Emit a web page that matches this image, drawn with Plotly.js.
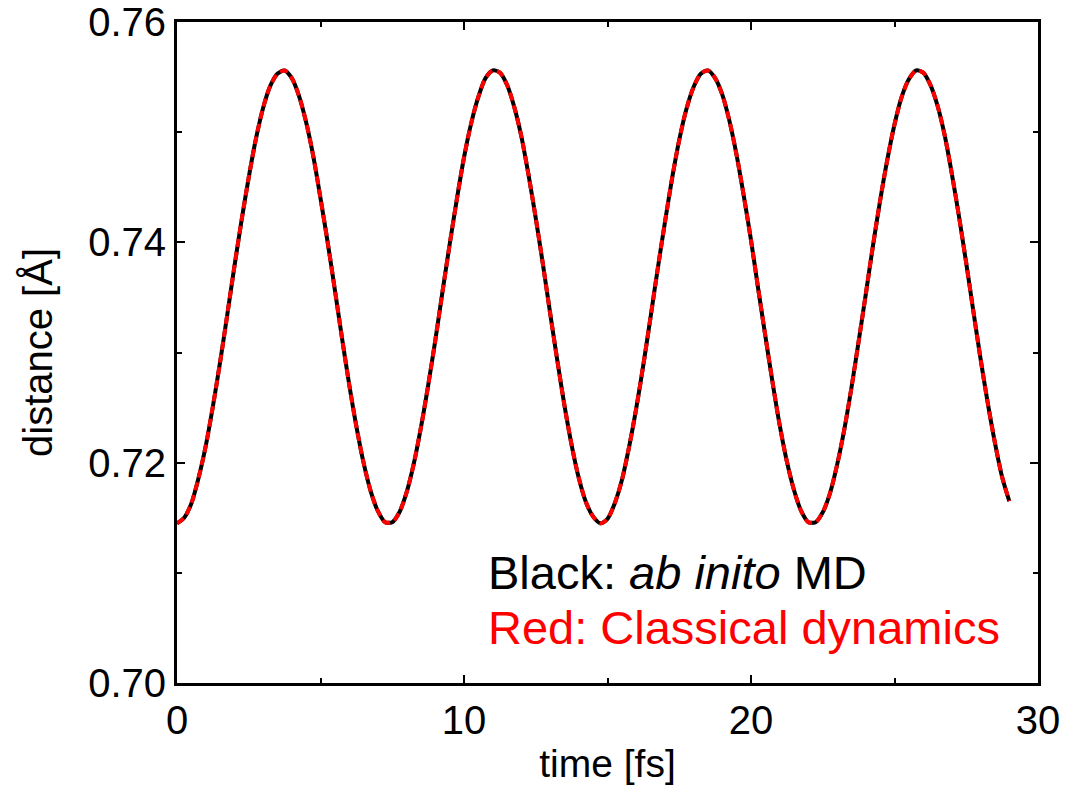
<!DOCTYPE html>
<html>
<head>
<meta charset="utf-8">
<script src="https://cdn.plot.ly/plotly-3.0.1.min.js"></script>
<style>html,body{margin:0;padding:0;background:#fff;}#chart{width:1070px;height:785px;}</style>
</head>
<body>
<div id="chart"></div>
<script>
// time [fs]
const time = [0,0.25,0.5,0.75,1,1.25,1.5,1.75,2,2.25,2.5,2.75,3,3.25,3.5,3.75,4,4.25,4.5,4.75,5,5.25,5.5,5.75,6,6.25,6.5,6.75,7,7.25,7.5,7.75,8,8.25,8.5,8.75,9,9.25,9.5,9.75,10,10.25,10.5,10.75,11,11.25,11.5,11.75,12,12.25,12.5,12.75,13,13.25,13.5,13.75,14,14.25,14.5,14.75,15,15.25,15.5,15.75,16,16.25,16.5,16.75,17,17.25,17.5,17.75,18,18.25,18.5,18.75,19,19.25,19.5,19.75,20,20.25,20.5,20.75,21,21.25,21.5,21.75,22,22.25,22.5,22.75,23,23.25,23.5,23.75,24,24.25,24.5,24.75,25,25.25,25.5,25.75,26,26.25,26.5,26.75,27,27.25,27.5,27.75,28,28.25,28.5,28.75,29];
// distance [Å], ab initio MD (black)
const abInitio = [0.7145,0.7150,0.7163,0.7186,0.7215,0.7251,0.7291,0.7334,0.7378,0.7420,0.7459,0.7494,0.7522,0.7542,0.7553,0.7556,0.7549,0.7533,0.7509,0.7478,0.7440,0.7400,0.7357,0.7313,0.7271,0.7233,0.7200,0.7174,0.7156,0.7146,0.7146,0.7155,0.7173,0.7199,0.7232,0.7270,0.7311,0.7355,0.7398,0.7439,0.7477,0.7508,0.7532,0.7549,0.7556,0.7554,0.7543,0.7523,0.7496,0.7461,0.7422,0.7380,0.7336,0.7293,0.7252,0.7216,0.7186,0.7164,0.7151,0.7145,0.7149,0.7163,0.7184,0.7214,0.7249,0.7289,0.7332,0.7376,0.7418,0.7458,0.7493,0.7521,0.7541,0.7553,0.7556,0.7549,0.7534,0.7510,0.7479,0.7442,0.7402,0.7358,0.7315,0.7273,0.7234,0.7201,0.7175,0.7156,0.7146,0.7146,0.7155,0.7172,0.7198,0.7230,0.7268,0.7310,0.7353,0.7397,0.7438,0.7475,0.7507,0.7532,0.7548,0.7556,0.7554,0.7543,0.7524,0.7497,0.7462,0.7423,0.7381,0.7337,0.7294,0.7254,0.7218,0.7187,0.7165];
// distance [Å], classical dynamics (red) - coincides with the black curve
const classical = [0.7145,0.7150,0.7163,0.7186,0.7215,0.7251,0.7291,0.7334,0.7378,0.7420,0.7459,0.7494,0.7522,0.7542,0.7553,0.7556,0.7549,0.7533,0.7509,0.7478,0.7440,0.7400,0.7357,0.7313,0.7271,0.7233,0.7200,0.7174,0.7156,0.7146,0.7146,0.7155,0.7173,0.7199,0.7232,0.7270,0.7311,0.7355,0.7398,0.7439,0.7477,0.7508,0.7532,0.7549,0.7556,0.7554,0.7543,0.7523,0.7496,0.7461,0.7422,0.7380,0.7336,0.7293,0.7252,0.7216,0.7186,0.7164,0.7151,0.7145,0.7149,0.7163,0.7184,0.7214,0.7249,0.7289,0.7332,0.7376,0.7418,0.7458,0.7493,0.7521,0.7541,0.7553,0.7556,0.7549,0.7534,0.7510,0.7479,0.7442,0.7402,0.7358,0.7315,0.7273,0.7234,0.7201,0.7175,0.7156,0.7146,0.7146,0.7155,0.7172,0.7198,0.7230,0.7268,0.7310,0.7353,0.7397,0.7438,0.7475,0.7507,0.7532,0.7548,0.7556,0.7554,0.7543,0.7524,0.7497,0.7462,0.7423,0.7381,0.7337,0.7294,0.7254,0.7218,0.7187,0.7165];
const xTicks = [0,10,20,30];
const yTicks = [0.70,0.72,0.74,0.76];
const yTickText = ['0.70','0.72','0.74','0.76'];

const FONT = 'Liberation Sans, Arial, sans-serif';
const traces = [
  {x: time, y: abInitio, type: 'scatter', mode: 'lines', name: 'ab initio MD',
   line: {color: '#000000', width: 4, shape: 'spline', smoothing: 0.8}},
  {x: time, y: classical, type: 'scatter', mode: 'lines', name: 'Classical dynamics',
   line: {color: '#ff0000', width: 4, dash: '8px,5px', shape: 'spline', smoothing: 0.8}}
];
const axisCommon = {
  showgrid: false, zeroline: false, showline: true, linecolor: '#000', linewidth: 3,
  mirror: 'ticks', ticks: 'inside', ticklen: 8, tickwidth: 2, tickcolor: '#000',
  tickfont: {family: FONT, size: 40, color: '#000'}
};
const layout = {
  width: 1070, height: 785,
  margin: {l: 177, r: 32, t: 22, b: 102},
  paper_bgcolor: '#fff', plot_bgcolor: '#fff',
  showlegend: false,
  xaxis: Object.assign({}, axisCommon, {
    range: [0, 30], tickmode: 'array', tickvals: xTicks, ticktext: xTicks.map(String),
    minor: {dtick: 5, tick0: 0, ticklen: 5, tickwidth: 2, tickcolor: '#000', ticks: 'inside'},
    title: {text: 'time [fs]', font: {family: FONT, size: 39, color: '#000'}, standoff: 10}
  }),
  yaxis: Object.assign({}, axisCommon, {
    range: [0.70, 0.76], tickmode: 'array', tickvals: yTicks, ticktext: yTickText,
    minor: {dtick: 0.01, tick0: 0.70, ticklen: 5, tickwidth: 2, tickcolor: '#000', ticks: 'inside'},
    title: {text: 'distance [Å]', font: {family: FONT, size: 40, color: '#000'}, standoff: 24}
  }),
  annotations: [
    {xref: 'x', yref: 'y', x: 10.78, y: 0.7100, xanchor: 'left', yanchor: 'middle', showarrow: false,
     text: 'Black: <i>ab inito</i> MD', font: {family: FONT, size: 47, color: '#000'}},
    {xref: 'x', yref: 'y', x: 10.78, y: 0.7050, xanchor: 'left', yanchor: 'middle', showarrow: false,
     text: 'Red: Classical dynamics', font: {family: FONT, size: 47, color: '#ff0000'}}
  ]
};
Plotly.newPlot('chart', traces, layout, {displayModeBar: false, staticPlot: true});
</script>
</body>
</html>
